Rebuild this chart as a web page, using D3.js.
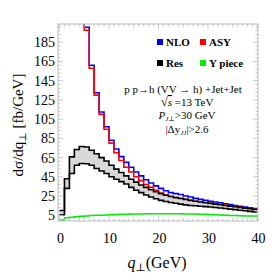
<!DOCTYPE html>
<html>
<head>
<meta charset="utf-8">
<script src="https://cdn.jsdelivr.net/npm/d3@7"></script>
<style>
body { margin: 0; background: #fff; }
text { font-family: "Liberation Serif", "DejaVu Serif", serif; }
</style>
</head>
<body>
<script>
// bin edges are 1 GeV wide, 0..40
var bins = d3.range(0, 40);
var nlo = [420, 450, 420, 360, 280, 200.6, 161, 132.5, 112.5, 97, 83, 74, 66, 60, 55, 50, 46, 42, 38.5, 35.5,
           33, 30.5, 28.5, 27.5, 26.5, 25, 24, 22.5, 21.5, 20.5, 19.5, 18.8, 18, 17, 16, 15, 14.2, 13.4, 12.7, 12];
var asy = [410, 440, 410, 350, 270, 197.5, 158, 130, 110, 94.5, 80, 70, 62, 55, 50, 45, 41, 37, 34, 31,
           28, 26, 24.5, 23.5, 22.5, 21.5, 20.5, 19.5, 18.5, 18, 17.5, 17, 16.3, 15.5, 14.8, 14, 13.3, 12.6, 12, 11.3];
var resUp = [10, 43, 65.7, 73.4, 76.5, 76, 72.6, 69, 65, 61.5, 57, 53, 49.5, 46, 42.5, 39.5, 36.5, 34, 31.5, 29.5,
             27.5, 25.8, 24.5, 23.3, 22.4, 21.5, 20.5, 19.5, 18.7, 18, 17.3, 16.6, 15.9, 15.2, 14.5, 13.8, 13.1, 12.4, 11.7, 11];
var resLo = [5.5, 33, 48.4, 57, 58.8, 58.5, 57, 53.6, 51, 48.4, 45, 42.5, 40, 37.5, 34, 31, 28.5, 26, 24, 22.2,
             20.5, 19.3, 18.3, 17.4, 16.6, 15.8, 15.2, 14.8, 14.4, 14, 13.6, 13.1, 12.6, 12, 11.4, 10.8, 10.2, 9.6, 9, 8.4];
var ypiece = [0, 2.5, 3, 3.5, 4, 4.3, 4.6, 4.9, 5.1, 5.3, 5.5, 5.7, 5.9, 6.1, 6.2, 6.3, 6.4, 6.5, 6.5, 6.6,
              6.6, 6.6, 6.6, 6.6, 6.5, 6.4, 6.3, 6.2, 6.1, 6, 5.8, 5.6, 5.3, 5, 4.8, 4.6, 4.4, 4.3, 4.2, 4.1];
var xTicks = [0, 10, 20, 30, 40];
var yTicks = [5, 25, 45, 65, 85, 105, 125, 145, 165, 185];
var legendNames = ["NLO", "ASY", "Res", "Y piece"];
var legendColors = ["#0000ff", "#ff0000", "#000000", "#00ee00"];

var W = 273, H = 273;
var pLeft = 58, pRight = 258, pTop = 24, pBottom = 221;

var svg = d3.select("body").append("svg")
    .attr("width", W)
    .attr("height", H);

var x = d3.scaleLinear().domain([0, 40]).range([59.5, 257.5]);
var y = d3.scaleLinear().domain([-1, 204]).range([pBottom, pTop]);

svg.append("clipPath").attr("id", "clip")
    .append("rect")
    .attr("x", pLeft).attr("y", pTop)
    .attr("width", pRight - pLeft).attr("height", pBottom - pTop);

// step points: value i spans [i, i+1]
function steps(vals) {
    var pts = vals.map(function (v, i) { return [i, v]; });
    pts.push([40, vals[vals.length - 1]]);
    return pts;
}

var line = d3.line()
    .x(function (d) { return x(d[0]); })
    .y(function (d) { return y(d[1]); })
    .curve(d3.curveStepAfter);

var band = bins.map(function (b, i) { return [b, resLo[i], resUp[i]]; });
band.push([40, resLo[39], resUp[39]]);
var area = d3.area()
    .x(function (d) { return x(d[0]); })
    .y0(function (d) { return y(d[1]); })
    .y1(function (d) { return y(d[2]); })
    .curve(d3.curveStepAfter);

var plot = svg.append("g").attr("clip-path", "url(#clip)");

plot.append("path")
    .attr("d", line(steps(ypiece)))
    .attr("fill", "none")
    .attr("stroke", "#00ee00")
    .attr("stroke-width", 1.5);

plot.append("path")
    .attr("d", line(steps(nlo)))
    .attr("fill", "none")
    .attr("stroke", "#0000ff")
    .attr("stroke-width", 1.6);

plot.append("path")
    .attr("d", line(steps(asy)))
    .attr("fill", "none")
    .attr("stroke", "#ff0000")
    .attr("stroke-width", 1.6);

plot.append("path")
    .attr("d", area(band))
    .attr("fill", "#d8d8d8");

[resUp, resLo].forEach(function (s) {
    plot.append("path")
        .attr("d", line(steps(s)))
        .attr("fill", "none")
        .attr("stroke", "#000")
        .attr("stroke-width", 1.6);
});

// frame and ticks
svg.append("rect")
    .attr("x", pLeft).attr("y", pTop)
    .attr("width", pRight - pLeft).attr("height", pBottom - pTop)
    .attr("fill", "none")
    .attr("stroke", "#bbb")
    .attr("stroke-width", 1);

var ticks = svg.append("g").attr("stroke", "#bbb").attr("stroke-width", 0.8);
d3.range(0, 41, 1).forEach(function (t) {
    var len = (t % 10 === 0) ? 5 : (t % 5 === 0 ? 3.5 : 2.5);
    ticks.append("line").attr("x1", x(t)).attr("x2", x(t)).attr("y1", pBottom).attr("y2", pBottom - len);
    ticks.append("line").attr("x1", x(t)).attr("x2", x(t)).attr("y1", pTop).attr("y2", pTop + len);
});
d3.range(1, 204, 4).forEach(function (t) {
    var major = yTicks.indexOf(t) >= 0;
    var len = major ? 5 : 2.5;
    ticks.append("line").attr("x1", pLeft).attr("x2", pLeft + len).attr("y1", y(t)).attr("y2", y(t));
    ticks.append("line").attr("x1", pRight).attr("x2", pRight - len).attr("y1", y(t)).attr("y2", y(t));
});

svg.selectAll(".xt").data(xTicks).enter().append("text")
    .attr("x", function (d) { return x(d) + 1; })
    .attr("y", 243)
    .attr("text-anchor", "middle")
    .attr("font-size", 14)
    .text(function (d) { return d; });

svg.selectAll(".yt").data(yTicks).enter().append("text")
    .attr("x", 55)
    .attr("y", function (d) { return y(d) + 5; })
    .attr("text-anchor", "end")
    .attr("font-size", 14)
    .text(function (d) { return d; });

// axis titles
var xl = svg.append("text")
    .attr("x", 157).attr("y", 268)
    .attr("text-anchor", "middle")
    .attr("font-size", 16);
xl.append("tspan").attr("font-style", "italic").text("q");
xl.append("tspan").attr("font-size", 11).attr("dy", 3).text("⊥");
xl.append("tspan").attr("dy", -3).text("(GeV)");

var yl = svg.append("text")
    .attr("transform", "translate(23,125) rotate(-90)")
    .attr("text-anchor", "middle")
    .attr("font-size", 15);
yl.append("tspan").text("dσ/dq");
yl.append("tspan").attr("font-size", 10).attr("dy", 3).text("⊥");
yl.append("tspan").attr("dy", -3).text(" [fb/GeV]");

// legend
var lx = [157, 200, 157, 200], ly = [42, 42, 63, 63];
legendNames.forEach(function (n, i) {
    svg.append("rect")
        .attr("x", lx[i]).attr("y", ly[i] - 3)
        .attr("width", 6).attr("height", 6)
        .attr("fill", legendColors[i]);
    svg.append("text")
        .attr("x", lx[i] + 9).attr("y", ly[i] + 4)
        .attr("font-size", 11)
        .attr("font-weight", "bold")
        .text(n);
});

// process info
var cx = 183;
svg.append("text").attr("x", cx).attr("y", 93).attr("text-anchor", "middle")
    .attr("font-size", 11).text("p p→h (VV → h) +Jet+Jet");
var t2 = svg.append("text").attr("x", cx + 4).attr("y", 106).attr("text-anchor", "middle").attr("font-size", 11);
t2.append("tspan").attr("font-size", 13).text("√");
t2.append("tspan").attr("font-style", "italic").attr("text-decoration", "overline").text("s");
t2.append("tspan").text(" =13 TeV");
var t3 = svg.append("text").attr("x", cx + 4).attr("y", 119).attr("text-anchor", "middle").attr("font-size", 11);
t3.append("tspan").attr("font-style", "italic").text("P");
t3.append("tspan").attr("font-style", "italic").attr("font-size", 7).attr("dy", 1.5).text("J⊥");
t3.append("tspan").attr("dy", -1.5).text(">30 GeV");
var t4 = svg.append("text").attr("x", cx + 4).attr("y", 133).attr("text-anchor", "middle").attr("font-size", 11);
t4.append("tspan").text("|Δy");
t4.append("tspan").attr("font-style", "italic").attr("font-size", 7).attr("dy", 1.5).text("JJ");
t4.append("tspan").attr("dy", -1.5).text("|>2.6");
</script>
</body>
</html>
